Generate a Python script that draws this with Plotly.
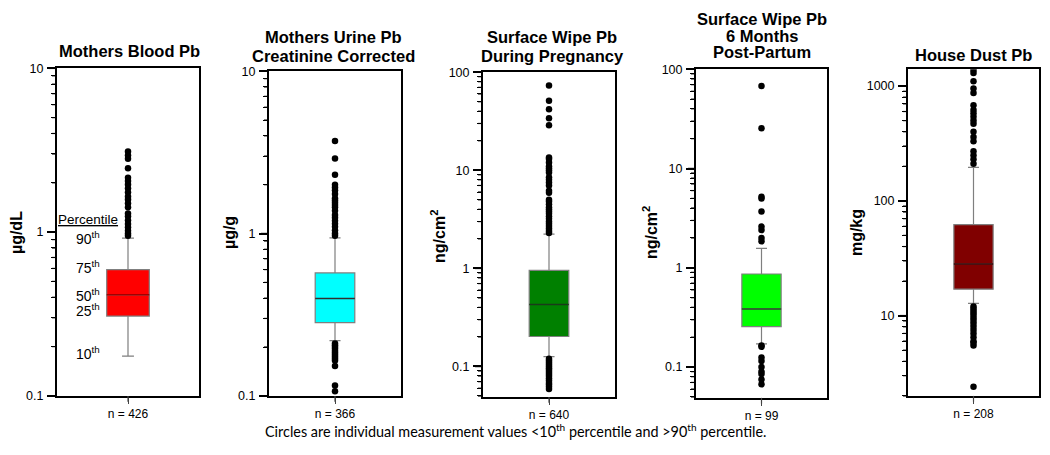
import plotly.graph_objects as go
import numpy as np

# ---------------- data ----------------
title_lines = [["Mothers Blood Pb"],
               ["Mothers Urine Pb", "Creatinine Corrected"],
               ["Surface Wipe Pb", "During Pregnancy"],
               ["Surface Wipe Pb", "6 Months", "Post-Partum"],
               ["House Dust Pb"]]
units = ["µg/dL", "µg/g", "ng/cm<sup>2</sup>", "ng/cm<sup>2</sup>", "mg/kg"]
n_labels = ["n = 426", "n = 366", "n = 640", "n = 99", "n = 208"]

p10 = [0.175, 0.219, 0.126, 0.171, 12.8]
p25 = [0.307, 0.283, 0.202, 0.255, 17.0]
p50 = [0.414, 0.398, 0.428, 0.385, 28.2]
p75 = [0.59, 0.572, 0.955, 0.866, 62.0]
p90 = [0.92, 0.94, 2.23, 1.57, 196.0]

out_blood = [3.1, 2.95, 2.8, 2.45, 2.15, 2.05, 1.95, 1.85, 1.75, 1.65, 1.58, 1.5, 1.42,
             1.3, 1.25, 1.18, 1.12, 1.07, 1.02, 0.98, 0.95]
out_urine = [3.72, 2.9, 2.3, 2.0, 1.92, 1.85, 1.75, 1.65, 1.6, 1.55, 1.5, 1.45, 1.38,
             1.3, 1.25, 1.2, 1.15, 1.1, 1.05, 1.0, 0.97,
             0.21, 0.205, 0.2, 0.195, 0.19, 0.185, 0.18, 0.175, 0.17, 0.165, 0.153, 0.116, 0.107]
out_wipe_preg = [73, 51, 42, 34, 28.7, 13.5, 13, 12, 11, 10.5, 10, 9.5, 8.5, 8, 7.5, 7, 6.2,
                 5.9, 5.0, 4.8, 4.5, 4.2, 4.0, 3.8, 3.6, 3.4, 3.2, 3.0, 2.85, 2.7, 2.55, 2.4, 2.3,
                 0.12, 0.115, 0.11, 0.105, 0.1, 0.096, 0.092, 0.088, 0.084, 0.08, 0.076,
                 0.072, 0.068, 0.065, 0.062, 0.059]
out_wipe_post = [68, 25.5, 5.2, 5.0, 3.7, 2.6, 2.4, 2.0, 1.85,
                 0.165, 0.16, 0.125, 0.115, 0.1, 0.09, 0.085, 0.075, 0.067]
out_dust = [1380, 1300, 1100, 950, 870, 680, 620, 580, 540, 500, 470, 400, 360, 330,
            270, 250, 230, 210,
            12, 11.5, 11, 10.5, 10, 9.5, 9, 8.5, 8, 7.5, 7, 6.5, 6, 5.8, 5.5, 2.4]
outliers = [out_blood, out_urine, out_wipe_preg, out_wipe_post, out_dust]

fill_colors = ["#FF0000", "#00FFFF", "#008000", "#00FF00", "#800000"]
median_colors = ["#A00000", "#303030", "#1A3A1A", "#205020", "#3A0000"]

# ---------------- layout geometry (page pixels; page body adds an 8px offset) ----------------
W, H = 1050, 455
OFF = 8
px_x = [(57, 199), (269, 401), (483, 615), (696, 827), (908, 1039)]
px_y = [(63, 401), (66, 401), (67, 402), (64, 403), (64, 401)]
yranges = [[-1, 1], [-1, 1], [-1.31, 2], [-1.31, 2], [np.log10(2), np.log10(1400)]]
unit_x = [16, 229, 438, 650, 856]
unit_y = [233, 233, 237, 233, 233]
title_x = [129, 333, 552, 762, 973]
title_y = [[45], [31, 50], [31, 50], [12, 29.5, 46.5], [49]]
MAJOR_LEN, MINOR_LEN = 8, 5


def fx(p):
    return (p - OFF) / W


def fy(p):
    return 1 - (p - OFF) / H


def tick_vals(lo, hi, minor):
    vals = []
    for d in range(int(np.floor(lo)) - 1, int(np.ceil(hi)) + 1):
        ks = range(2, 10) if minor else [1]
        for k in ks:
            v = k * 10.0 ** d
            if lo - 1e-9 <= np.log10(v) <= hi + 1e-9:
                vals.append(v)
    return vals


FONT = "Arial, Liberation Sans, sans-serif"

fig = go.Figure()
layout = dict(width=W, height=H, margin=dict(l=0, r=0, t=0, b=0),
              paper_bgcolor="white", plot_bgcolor="white", showlegend=False,
              boxmode="overlay", annotations=[], shapes=[],
              font=dict(family=FONT, color="black"))

for i in range(5):
    sx = "" if i == 0 else str(i + 1)
    xa, ya = "x" + sx, "y" + sx
    ym = "y" + str(i + 6)  # overlay axis carrying the minor ticks
    lo, hi = yranges[i]
    # whiskers + outline (gray)
    fig.add_trace(go.Box(x=[0], q1=[p25[i]], median=[p50[i]], q3=[p75[i]],
                         lowerfence=[p10[i]], upperfence=[p90[i]],
                         width=0.3, whiskerwidth=0.28, fillcolor=fill_colors[i],
                         line=dict(color="#7F7F7F", width=1.2),
                         boxpoints=False, xaxis=xa, yaxis=ya, hoverinfo="skip"))
    # darker median line
    fig.add_trace(go.Box(x=[0], q1=[p50[i]], median=[p50[i]], q3=[p50[i]],
                         lowerfence=[p50[i]], upperfence=[p50[i]],
                         width=0.3, whiskerwidth=0, fillcolor="rgba(0,0,0,0)",
                         line=dict(color=median_colors[i], width=1.5),
                         boxpoints=False, xaxis=xa, yaxis=ya, hoverinfo="skip"))
    # outlier circles
    fig.add_trace(go.Scatter(x=[0] * len(outliers[i]), y=outliers[i], mode="markers",
                             marker=dict(color="black", size=6.5),
                             xaxis=xa, yaxis=ya, hoverinfo="skip"))
    # invisible trace to activate the minor-tick overlay axis
    fig.add_trace(go.Scatter(x=[0], y=[p50[i]], mode="markers",
                             marker=dict(opacity=0, size=1),
                             xaxis=xa, yaxis=ym, hoverinfo="skip"))

    x0, x1 = px_x[i]
    y0, y1 = px_y[i]
    layout["xaxis" + sx] = dict(domain=[fx(x0), fx(x1)], anchor=ya, range=[-0.5, 0.5],
                                showline=True, mirror=True, linecolor="black", linewidth=2,
                                tickmode="array", tickvals=[0], ticktext=[n_labels[i]],
                                ticks="outside", ticklen=6, tickcolor="#444", tickwidth=1.2,
                                showgrid=False, zeroline=False,
                                tickfont=dict(size=12, family=FONT))
    layout["yaxis" + sx] = dict(domain=[fy(y1), fy(y0)], anchor=xa, type="log",
                                range=[lo, hi], showline=True, mirror=True,
                                linecolor="black", linewidth=2,
                                tickmode="linear", tick0=0, dtick=1, exponentformat="none",
                                ticks="outside", ticklen=MAJOR_LEN, tickwidth=1.5,
                                tickcolor="black",
                                showgrid=False, zeroline=False, ticklabelstandoff=1,
                                tickfont=dict(size=12.5, family=FONT))
    layout["yaxis" + str(i + 6)] = dict(overlaying=ya, anchor=xa, side="left", type="log",
                                        range=[lo, hi], tickmode="array",
                                        tickvals=tick_vals(lo, hi, True),
                                        ticks="outside", ticklen=MINOR_LEN, tickwidth=1.2,
                                        tickcolor="black", showticklabels=False,
                                        showline=False, showgrid=False, zeroline=False)
    # tick marks drawn along each axis domain (axis decoration)
    for minor, ln, lw in [(False, MAJOR_LEN, 1.5), (True, MINOR_LEN, 1.2)]:
        for v in tick_vals(lo, hi, minor):
            f = (np.log10(v) - lo) / (hi - lo)
            layout["shapes"].append(dict(type="line", xref="paper", yref=ya + " domain",
                                         x0=fx(x0 - ln), x1=fx(x0), y0=f, y1=f,
                                         line=dict(color="black", width=lw), layer="above"))
    layout["shapes"].append(dict(type="line", xref=xa, yref=ya + " domain", x0=0, x1=0,
                                 y0=0, y1=-6 / (y1 - y0),
                                 line=dict(color="#444", width=1.2), layer="above"))
    # title lines
    for line, ty in zip(title_lines[i], title_y[i]):
        layout["annotations"].append(dict(
            text="<b>" + line + "</b>", xref="paper", yref="paper",
            x=fx(title_x[i]), y=fy(ty), xanchor="center", yanchor="middle",
            showarrow=False, font=dict(size=16.5, family=FONT)))
    # unit label
    layout["annotations"].append(dict(
        text="<b>" + units[i] + "</b>", xref="paper", yref="paper",
        x=fx(unit_x[i]), y=fy(unit_y[i]), xanchor="center", yanchor="middle",
        textangle=-90, showarrow=False, font=dict(size=16, family=FONT)))

# percentile legend in panel 1
pct_labels = ["90<sup>th</sup>", "75<sup>th</sup>", "50<sup>th</sup>", "25<sup>th</sup>", "10<sup>th</sup>"]
pct_vals = [p90[0], p75[0], p50[0], p25[0], p10[0]]
pct_shift = [0, 3, 0, 6, 3]
for lab, v, s in zip(pct_labels, pct_vals, pct_shift):
    layout["annotations"].append(dict(text=lab, xref="x", yref="y", x=-0.28, y=np.log10(v),
                                      yshift=s, xanchor="center", yanchor="middle",
                                      showarrow=False, font=dict(size=14, family=FONT)))
layout["annotations"].append(dict(text="<u>Percentile</u>", xref="x", yref="y", x=-0.28,
                                  y=np.log10(p90[0]), yshift=19, xanchor="center",
                                  yanchor="middle", showarrow=False,
                                  font=dict(size=13.5, family=FONT)))

# footnote
layout["annotations"].append(dict(
    text="Circles are individual measurement values &lt;10<sup>th</sup> percentile and &gt;90<sup>th</sup> percentile.",
    xref="paper", yref="paper", x=fx(515), y=fy(437), xanchor="center", yanchor="middle",
    showarrow=False, font=dict(size=14.4, family="Lato, Open Sans, sans-serif")))

fig.update_layout(**layout)
fig.write_html("out.html")
